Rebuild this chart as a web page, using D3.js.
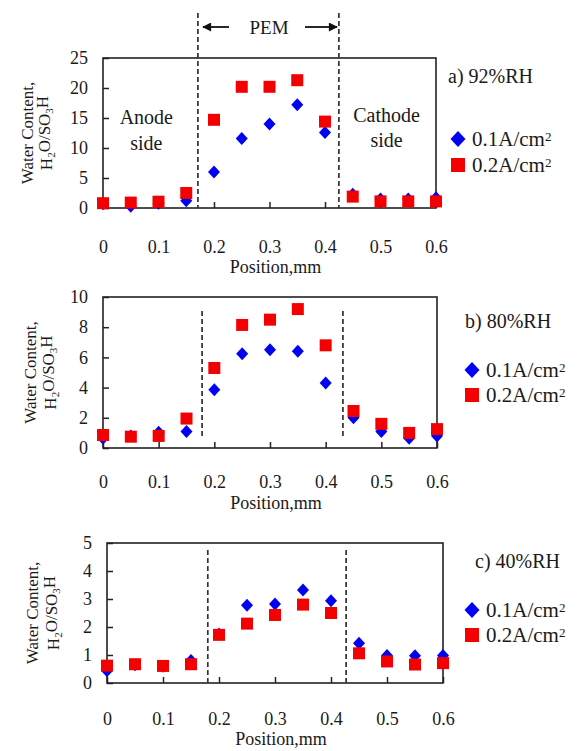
<!DOCTYPE html>
<html><head><meta charset="utf-8">
<script src="https://cdn.jsdelivr.net/npm/d3@7"></script>
<style>body{margin:0;background:#fff}svg{display:block}svg text{font-family:"Liberation Serif","Times New Roman",serif !important;fill:#1a1a1a}</style>
</head><body><svg id="c" width="578" height="751"></svg>
<script>
// ---- data ----
const positions = [0,0.05,0.1,0.15,0.2,0.25,0.3,0.35,0.4,0.45,0.5,0.55,0.6];
const xTicks = [0,0.1,0.2,0.3,0.4,0.5,0.6];
const seriesNames = ["0.1A/cm", "0.2A/cm"];
const panelTitles = ["a) 92%RH","b) 80%RH","c) 40%RH"];
const a_low  = [0.7,0.3,0.8,1.2,6.0,11.6,14.0,17.2,12.6,2.3,1.5,1.5,1.7];
const a_high = [0.8,0.9,1.05,2.5,14.7,20.2,20.2,21.3,14.4,1.9,1.1,1.1,1.1];
const b_low  = [0.65,0.8,1.05,1.1,3.85,6.25,6.5,6.4,4.3,2.0,1.1,0.65,0.8];
const b_high = [0.86,0.75,0.8,1.95,5.3,8.15,8.5,9.2,6.8,2.45,1.6,1.0,1.25];
const c_low  = [0.44,0.65,0.6,0.8,1.75,2.78,2.82,3.32,2.94,1.42,0.98,0.97,0.98];
const c_high = [0.62,0.67,0.61,0.67,1.72,2.12,2.43,2.8,2.5,1.06,0.77,0.66,0.71];
const yTicksA = [0,5,10,15,20,25];
const yTicksB = [0,2,4,6,8,10];
const yTicksC = [0,1,2,3,4,5];
const boundA = [0.171,0.425];
const boundB = [0.178,0.431];
const boundC = [0.180,0.427];

const svg = d3.select("#c");
const BLUE="#0000f5", RED="#f50000";

const panels = [
 {low:a_low, high:a_high, yt:yTicksA, bound:boundA, title:panelTitles[0],
  L:103,R:436,T:58,B:208, xl:247, xt:267, dashTop:13, dashBot:208,
  ylab:[27,46], tx:448, ty:83, lx:458, ly:[139,165]},
 {low:b_low, high:b_high, yt:yTicksB, bound:boundB, title:panelTitles[1],
  L:103,R:437,T:297,B:448, xl:482, xt:503, dashTop:311, dashBot:437,
  ylab:[30,50], tx:465, ty:328, lx:472, ly:[370,395]},
 {low:c_low, high:c_high, yt:yTicksC, bound:boundC, title:panelTitles[2],
  L:107,R:443,T:543,B:683, xl:719, xt:739, dashTop:550, dashBot:683,
  ylab:[32,53], tx:475, ty:568, lx:472, ly:[610,635]}
];

const diamond = (cx,cy,w,h)=>`M${cx},${cy-h/2}L${cx+w/2},${cy}L${cx},${cy+h/2}L${cx-w/2},${cy}Z`;

panels.forEach(p=>{
  const x = d3.scaleLinear().domain([0,0.6]).range([p.L,p.R]);
  const y = d3.scaleLinear().domain([0,p.yt[p.yt.length-1]]).range([p.B,p.T]);
  const g = svg.append("g");
  g.append("rect").attr("x",p.L).attr("y",p.T).attr("width",p.R-p.L).attr("height",p.B-p.T)
    .attr("fill","none").attr("stroke","#222").attr("stroke-width",1.6);
  const xa = g.append("g").attr("transform",`translate(0,${p.B})`)
    .call(d3.axisBottom(x).tickValues(xTicks).tickSize(-6).tickFormat(d=>d===0?"0":d3.format(".1f")(d)).tickPadding(0));
  xa.attr("font-family",null).attr("font-size",null);
  xa.select(".domain").remove();
  xa.selectAll("line").attr("stroke","#222").attr("stroke-width",1.5);
  xa.selectAll("text").attr("y",p.xl-p.B).attr("dy","0.35em").style("font-size","18px").attr("fill","#1a1a1a");
  const ya = g.append("g").attr("transform",`translate(${p.L},0)`)
    .call(d3.axisLeft(y).tickValues(p.yt).tickSize(-6).tickPadding(0).tickFormat(d3.format("d")));
  ya.attr("font-family",null).attr("font-size",null);
  ya.select(".domain").remove();
  ya.selectAll("line").attr("stroke","#222").attr("stroke-width",1.5);
  ya.selectAll("text").attr("x",-15).style("font-size","18px").attr("fill","#1a1a1a");
  g.selectAll(".bd").data(p.bound).enter().append("line")
    .attr("x1",d=>x(d)).attr("x2",d=>x(d)).attr("y1",p.dashTop).attr("y2",p.dashBot)
    .attr("stroke","#333").attr("stroke-width",1.7).attr("stroke-dasharray","5,3");
  g.append("text").attr("x",(p.L+p.R)/2+6).attr("y",p.xt).attr("text-anchor","middle")
    .attr("dy","0.35em").style("font-size","18px").text("Position,mm");
  const cy=(p.T+p.B)/2;
  g.append("text").attr("transform",`translate(${p.ylab[0]},${cy}) rotate(-90)`)
    .attr("text-anchor","middle").attr("dy","0.35em").style("font-size","17px").text("Water Content,");
  const t2 = g.append("text").attr("transform",`translate(${p.ylab[1]},${cy}) rotate(-90)`)
    .attr("text-anchor","middle").attr("dy","0.35em").style("font-size","17px");
  t2.append("tspan").text("H");
  t2.append("tspan").attr("dy","0.3em").style("font-size","11px").text("2");
  t2.append("tspan").attr("dy","-0.3em").text("O/SO");
  t2.append("tspan").attr("dy","0.3em").style("font-size","11px").text("3");
  t2.append("tspan").attr("dy","-0.3em").text("H");
  g.selectAll(".lo").data(p.low).enter().append("path")
    .attr("d",(d,i)=>diamond(x(positions[i]),y(d),12,13)).attr("fill",BLUE);
  g.selectAll(".hi").data(p.high).enter().append("rect")
    .attr("x",(d,i)=>x(positions[i])-6).attr("y",d=>y(d)-6).attr("width",12).attr("height",12).attr("fill",RED);
  g.append("text").attr("x",p.tx).attr("y",p.ty).style("font-size","20px").text(p.title);
  [0,1].forEach(k=>{
    const ly=p.ly[k];
    if(k===0) g.append("path").attr("d",diamond(p.lx,ly,15,16)).attr("fill",BLUE);
    else g.append("rect").attr("x",p.lx-7).attr("y",ly-7).attr("width",14).attr("height",14).attr("fill",RED);
    const t=g.append("text").attr("x",p.lx+14).attr("y",ly).attr("dy","0.35em").style("font-size","21px");
    t.append("tspan").text(seriesNames[k]);
    t.append("tspan").attr("dy","-0.45em").style("font-size","13px").text("2");
  });
});

const xa0 = d3.scaleLinear().domain([0,0.6]).range([103,436]);
svg.append("text").attr("x",xa0(0.078)).attr("y",117).attr("text-anchor","middle").attr("dy","0.35em").style("font-size","20px").text("Anode");
svg.append("text").attr("x",xa0(0.078)).attr("y",143).attr("text-anchor","middle").attr("dy","0.35em").style("font-size","20px").text("side");
svg.append("text").attr("x",xa0(0.511)).attr("y",115).attr("text-anchor","middle").attr("dy","0.35em").style("font-size","20px").text("Cathode");
svg.append("text").attr("x",xa0(0.511)).attr("y",140).attr("text-anchor","middle").attr("dy","0.35em").style("font-size","20px").text("side");
svg.append("text").attr("x",269).attr("y",27).attr("text-anchor","middle").attr("dy","0.35em").style("font-size","19px").text("PEM");
const defs=svg.append("defs");
defs.append("marker").attr("id","ah").attr("viewBox","0 0 10 10").attr("refX",9).attr("refY",5)
  .attr("markerWidth",11).attr("markerHeight",9).attr("markerUnits","userSpaceOnUse").attr("orient","auto")
  .append("path").attr("d","M0,0L10,5L0,10Z").attr("fill","#111");
svg.append("line").attr("x1",229).attr("x2",203).attr("y1",27).attr("y2",27).attr("stroke","#111").attr("stroke-width",1.8).attr("marker-end","url(#ah)");
svg.append("line").attr("x1",305).attr("x2",337).attr("y1",27).attr("y2",27).attr("stroke","#111").attr("stroke-width",1.8).attr("marker-end","url(#ah)");
</script></body></html>
